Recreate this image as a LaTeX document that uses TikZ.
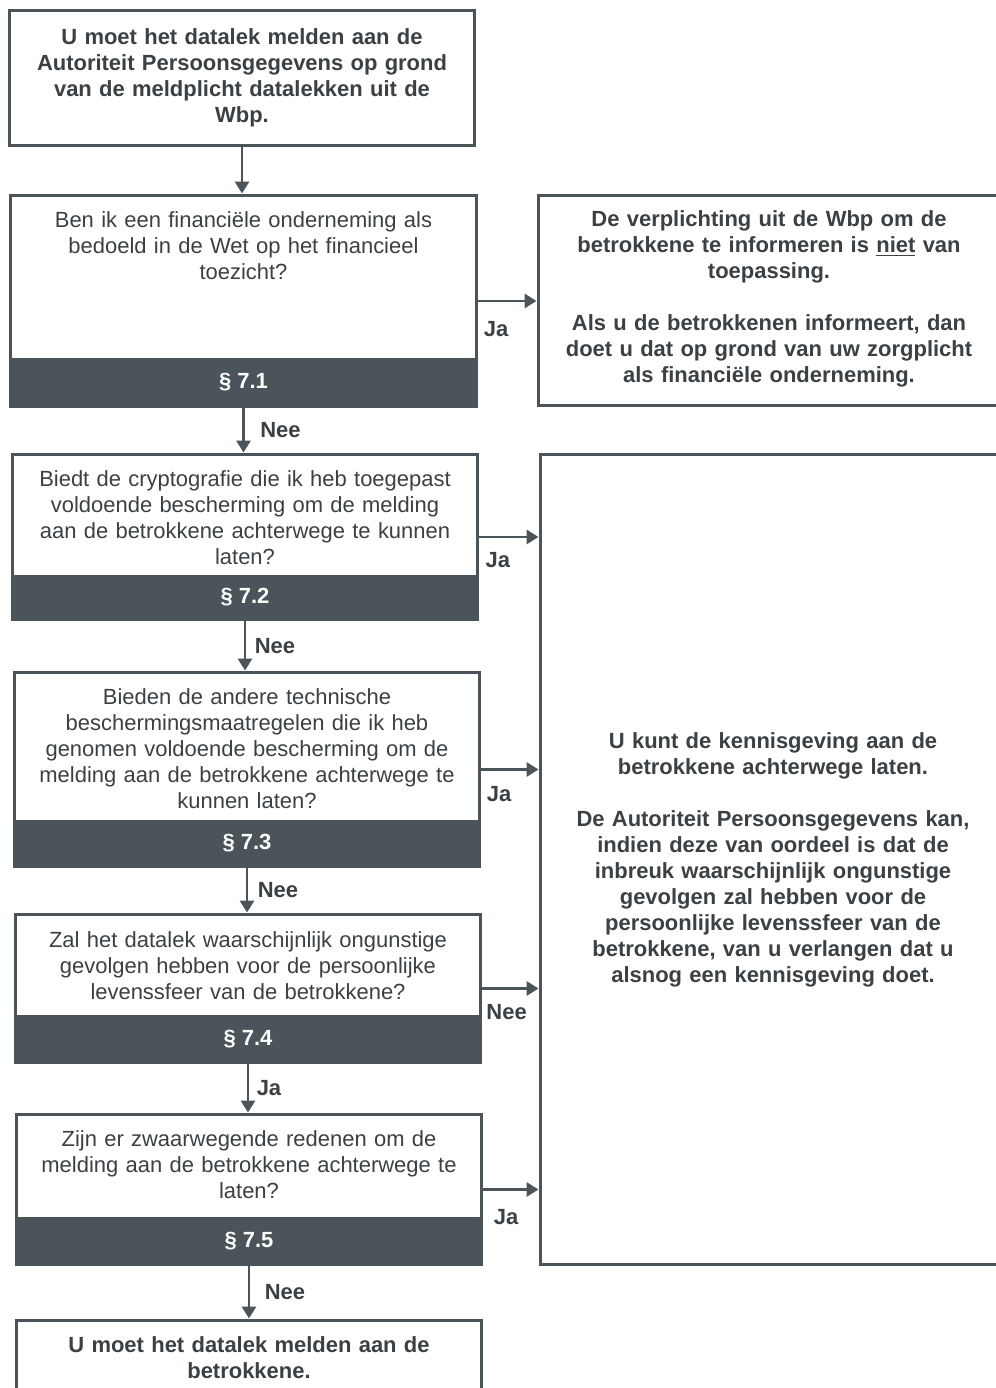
\documentclass[tikz,border=0pt]{standalone}
\usepackage{fontspec}
\setmainfont{Liberation Sans}
\usetikzlibrary{arrows.meta}
\definecolor{slate}{HTML}{4B5459}
\definecolor{ink}{HTML}{3A4044}

\begin{document}
\begin{tikzpicture}[x=0.02cm,y=-0.02cm,
  frame/.style={draw=slate,line width=1.7pt,inner sep=0,minimum width=9.32cm},
  band/.style={fill=slate,inner sep=0,minimum width=9.32cm,text=white,font=\fontsize{12.5}{14.8}\selectfont\bfseries},
  ask/.style={text=ink,text width=9.2cm,align=center,font=\fontsize{12.5}{14.8}\selectfont},
  tell/.style={ask,font=\fontsize{12.5}{14.8}\selectfont\bfseries},
  flow/.style={draw=slate,line width=1.7pt,-{Triangle[length=0.24cm,width=0.28cm]}},
  lbl/.style={text=ink,font=\fontsize{12.5}{14.8}\selectfont\bfseries}]
\useasboundingbox (0,0) rectangle (995,1388);

\node[band,minimum height=0.98cm] (q1p) at (243.5,382.5) {§ 7.1};
\node[band,minimum height=0.90cm] (q2p) at (245,597.5) {§ 7.2};
\node[band,minimum height=0.94cm] (q3p) at (247,843.5) {§ 7.3};
\node[band,minimum height=0.96cm] (q4p) at (248,1039) {§ 7.4};
\node[band,minimum height=0.96cm] (q5p) at (249,1241) {§ 7.5};

\node[frame,minimum height=2.72cm] (start) at (242,78) {};
\node[frame,minimum height=4.24cm] (q1) at (243.5,301) {};
\node[frame,minimum height=3.32cm] (q2) at (245,537) {};
\node[frame,minimum height=3.90cm] (q3) at (247,769.5) {};
\node[frame,minimum height=2.98cm] (q4) at (248,988.5) {};
\node[frame,minimum height=3.02cm] (q5) at (249,1189.5) {};
\node[frame,minimum height=1.60cm] (stop) at (249,1360) {};
\node[frame,minimum width=9.44cm,minimum height=4.22cm] (noduty) at (774,300.5) {};
\node[frame,minimum width=9.40cm,minimum height=16.22cm] (skip) at (775,859.5) {};

\node[tell] (startt) at (242,77.5) {U moet het datalek melden aan de\\Autoriteit Persoonsgegevens op grond\\van de meldplicht datalekken uit de\\Wbp.};
\node[ask] (q1t) at (243.5,246) {Ben ik een financiële onderneming als\\bedoeld in de Wet op het financieel\\toezicht?};
\node[ask] (q2t) at (245,518) {Biedt de cryptografie die ik heb toegepast\\voldoende bescherming om de melding\\aan de betrokkene achterwege te kunnen\\laten?};
\node[ask] (q3t) at (247,748.5) {Bieden de andere technische\\beschermingsmaatregelen die ik heb\\genomen voldoende bescherming om de\\melding aan de betrokkene achterwege te\\kunnen laten?};
\node[ask] (q4t) at (248,966) {Zal het datalek waarschijnlijk ongunstige\\gevolgen hebben voor de persoonlijke\\levenssfeer van de betrokkene?};
\node[ask] (q5t) at (249,1165) {Zijn er zwaarwegende redenen om de\\melding aan de betrokkene achterwege te\\laten?};
\node[tell] (stopt) at (249,1358) {U moet het datalek melden aan de\\betrokkene.};
\node[tell] (nodutyt) at (769,299) {De verplichting uit de Wbp om de\\betrokkene te informeren is \underline{niet} van\\toepassing.\\[14.8pt]Als u de betrokkenen informeert, dan\\doet u dat op grond van uw zorgplicht\\als financiële onderneming.};
\node[tell] (skipt) at (773,860) {U kunt de kennisgeving aan de\\betrokkene achterwege laten.\\[14.8pt]De Autoriteit Persoonsgegevens kan,\\indien deze van oordeel is dat de\\inbreuk waarschijnlijk ongunstige\\gevolgen zal hebben voor de\\persoonlijke levenssfeer van de\\betrokkene, van u verlangen dat u\\alsnog een kennisgeving doet.};

\draw[flow] (start.south) -- (start.south |- q1.north);
\draw[flow] (q1.south) -- (q1.south |- q2.north) node[lbl,midway,xshift=0.74cm] {Nee};
\draw[flow] (q2.south) -- (q2.south |- q3.north) node[lbl,midway,xshift=0.6cm] {Nee};
\draw[flow] (q3.south) -- (q3.south |- q4.north) node[lbl,midway,xshift=0.62cm] {Nee};
\draw[flow] (q4.south) -- (q4.south |- q5.north) node[lbl,midway,xshift=0.42cm] {Ja};
\draw[flow] (q5.south) -- (q5.south |- stop.north) node[lbl,midway,xshift=0.72cm] {Nee};

\draw[flow] (q1.east) -- (q1.east -| noduty.west) node[lbl,pos=.31,yshift=-0.56cm] {Ja};
\draw[flow] (q2.east) -- (q2.east -| skip.west) node[lbl,pos=.31,yshift=-0.46cm] {Ja};
\draw[flow] (q3.east) -- (q3.east -| skip.west) node[lbl,pos=.31,yshift=-0.5cm] {Ja};
\draw[flow] (q4.east) -- (q4.east -| skip.west) node[lbl,pos=.43,yshift=-0.48cm] {Nee};
\draw[flow] (q5.east) -- (q5.east -| skip.west) node[lbl,pos=.41,yshift=-0.56cm] {Ja};

\end{tikzpicture}
\end{document}
